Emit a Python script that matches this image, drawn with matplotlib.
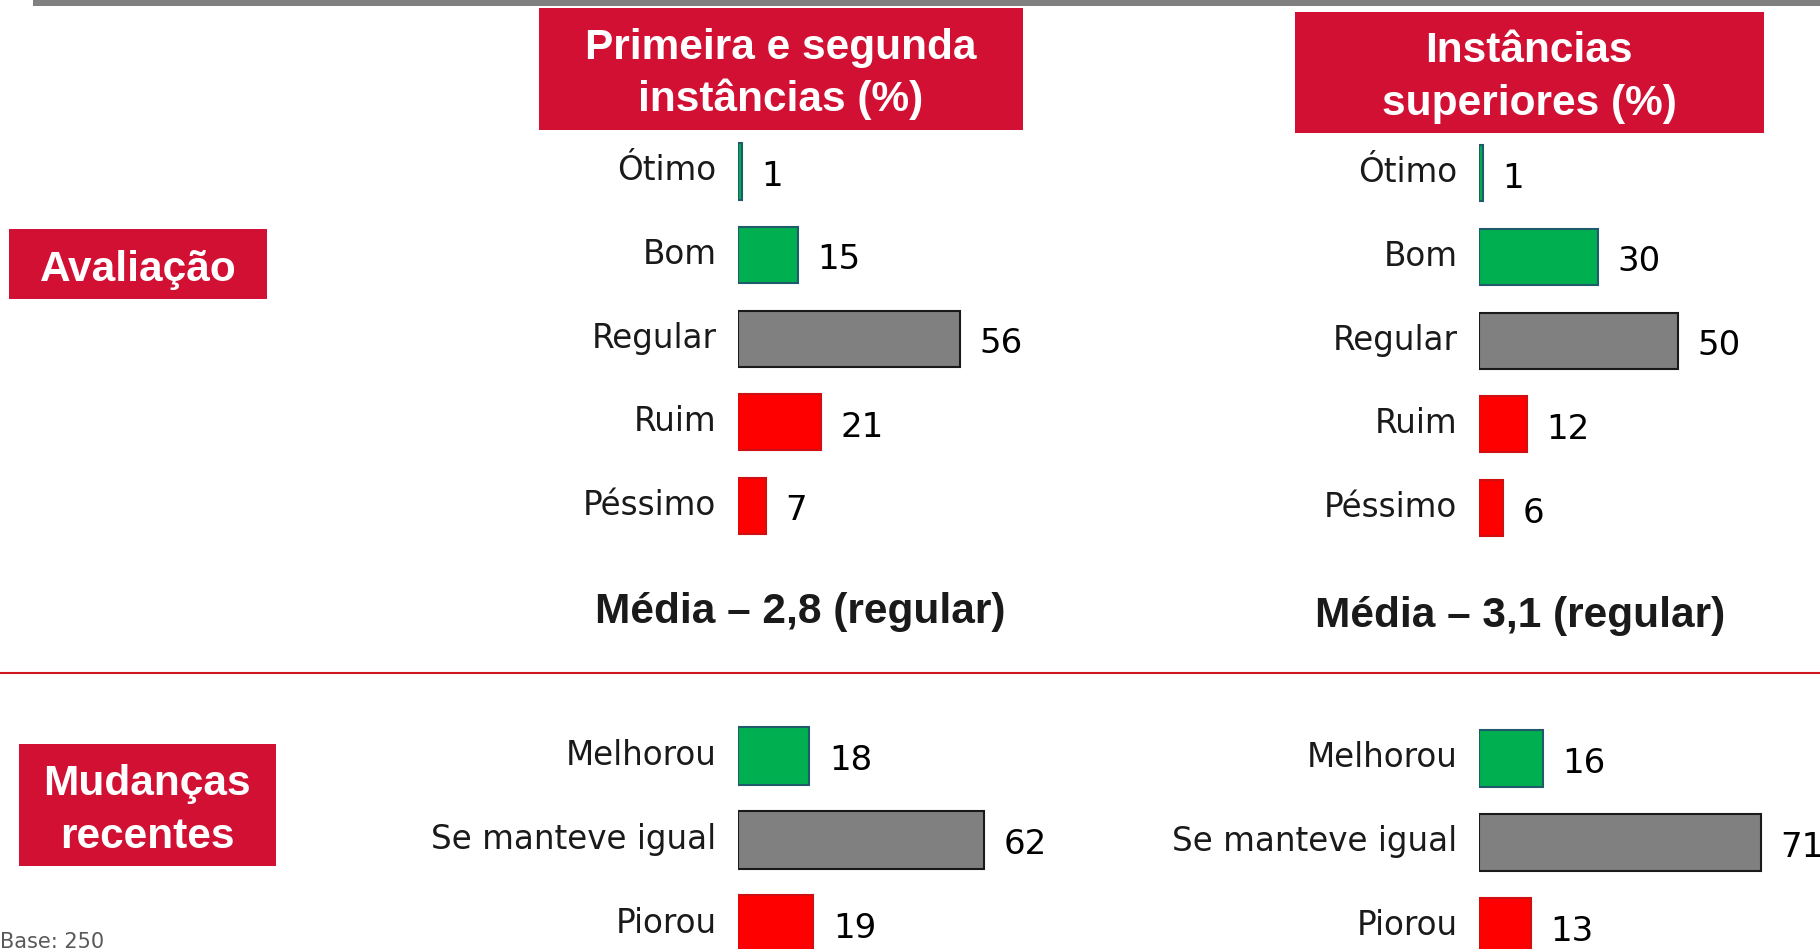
import matplotlib
matplotlib.use('Agg')
import matplotlib.pyplot as plt
from matplotlib.patches import Rectangle
from matplotlib.lines import Line2D
from matplotlib.transforms import ScaledTranslation

# Dados
aval_cats = ['Ótimo', 'Bom', 'Regular', 'Ruim', 'Péssimo']
aval_1 = [1, 15, 56, 21, 7]
aval_2 = [1, 30, 50, 12, 6]
aval_cores = ['#00B050', '#00B050', '#808080', '#FF0000', '#FF0000']
aval_bordas = ['#1F5B6A', '#1F5B6A', '#1A1A1A', '#D01010', '#D01010']

mud_cats = ['Melhorou', 'Se manteve igual', 'Piorou']
mud_1 = [18, 62, 19]
mud_2 = [16, 71, 13]
mud_cores = ['#00B050', '#808080', '#FF0000']
mud_bordas = ['#1F5B6A', '#1A1A1A', '#D01010']

titulos = [['Primeira e segunda', 'instâncias (%)'], ['Instâncias', 'superiores (%)']]
medias = ['Média – 2,8 (regular)', 'Média – 3,1 (regular)']

W, H = 1820, 949
PX = 3.97  # pixels por ponto percentual
VERMELHO = '#D21034'
TAM = 30.5

fig = plt.figure(figsize=(W / 100, H / 100), dpi=100)


def fx(x):
    return x / W


def fy(y):
    return 1 - y / H


def caixa(x0, y0, x1, y1):
    fig.add_artist(Rectangle((fx(x0), fy(y1)), (x1 - x0) / W, (y1 - y0) / H,
                             transform=fig.transFigure, color=VERMELHO, lw=0))


def painel(left, top, pitch, cats, vals, cores, bordas, altura):
    n = len(cats)
    largura = 360
    h = pitch * n
    ax = fig.add_axes([fx(left), fy(top + h), largura / W, h / H])
    barras = ax.barh(range(n), vals, height=altura, color=cores,
                     edgecolor=bordas, linewidth=1.5)
    ax.set_xlim(0, largura / PX)
    ax.set_ylim(n - 0.5, -0.5)
    ax.set_yticks(range(n), cats, fontsize=23.5, color='#1A1A1A')
    ax.tick_params(axis='y', length=0, pad=15.5)
    # rótulos um pouco acima do centro da barra
    sobe = ScaledTranslation(0, 4 / 100, fig.dpi_scale_trans)
    for lb in ax.get_yticklabels():
        lb.set_transform(lb.get_transform() + sobe)
    ax.set_xticks([])
    for s in ax.spines.values():
        s.set_visible(False)
    ax.patch.set_visible(False)
    textos = ax.bar_label(barras, padding=14, fontsize=24.5, color='black')
    for t in textos:
        t.xyann = (t.xyann[0], -3.5)
    return ax


# Faixa cinza no topo
fig.add_artist(Rectangle((fx(33), fy(6)), 1, 6 / H, transform=fig.transFigure,
                         color='#808080', lw=0))

# Cabeçalhos
caixa(539, 8, 1023, 130)
caixa(1295, 12, 1764, 133)
for (l1, l2), cx, y1 in zip(titulos, [781, 1529], [47.5, 51.5]):
    fig.text(fx(cx), fy(y1), l1, ha='center', va='center', color='white',
             fontsize=TAM, fontweight='bold', family='Liberation Sans')
    fig.text(fx(cx), fy(y1 + 52), l2, ha='center', va='center', color='white',
             fontsize=TAM, fontweight='bold', family='Liberation Sans')

# Rótulos laterais
caixa(9, 229, 267, 299)
fig.text(fx(138), fy(270), 'Avaliação', ha='center', va='center', color='white',
         fontsize=TAM, fontweight='bold', family='Liberation Sans')
caixa(19, 744, 276, 866)
fig.text(fx(147), fy(784.5), 'Mudanças', ha='center', va='center', color='white',
         fontsize=TAM, fontweight='bold', family='Liberation Sans')
fig.text(fx(147), fy(836.5), 'recentes', ha='center', va='center', color='white',
         fontsize=TAM, fontweight='bold', family='Liberation Sans')

# Painéis
painel(738, 129.7, 83.6, aval_cats, aval_1, aval_cores, aval_bordas, 0.67)
painel(1479, 131.5, 83.7, aval_cats, aval_2, aval_cores, aval_bordas, 0.67)
painel(738, 714, 84, mud_cats, mud_1, mud_cores, mud_bordas, 0.68)
painel(1479, 716.3, 84, mud_cats, mud_2, mud_cores, mud_bordas, 0.68)

# Médias
for m, cx, cy in zip(medias, [800, 1520], [612.5, 615.5]):
    fig.text(fx(cx), fy(cy), m, ha='center', va='center', color='#1A1A1A',
             fontsize=TAM, fontweight='bold', family='Liberation Sans')

# Linha divisória
fig.add_artist(Line2D([0, 1], [fy(673.3), fy(673.3)], transform=fig.transFigure,
                      color='#D0161E', lw=1.5))

fig.text(0, fy(932), 'Base: 250', ha='left', va='top', fontsize=15, color='#595959')

fig.savefig('out.png', dpi=100)
